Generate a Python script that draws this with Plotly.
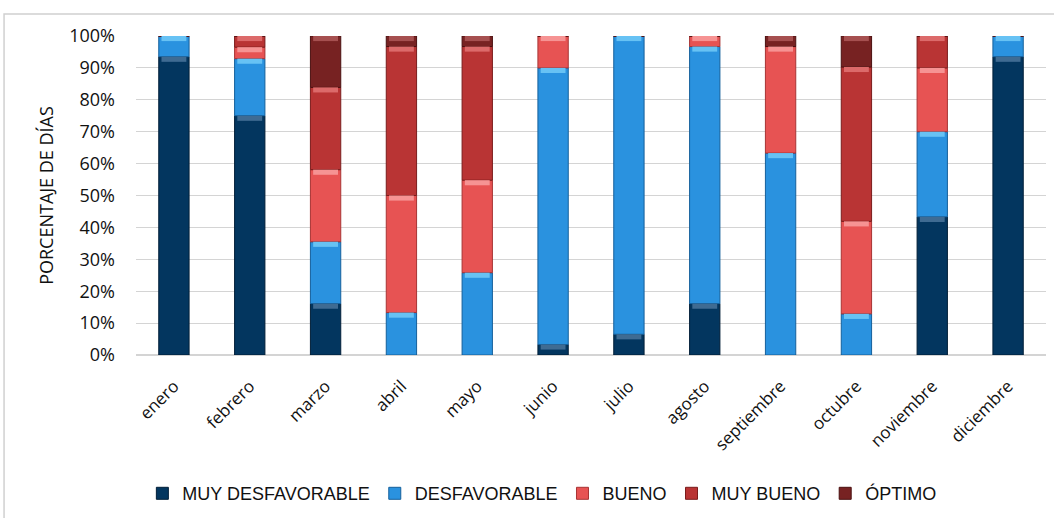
import numpy as np
import plotly.graph_objects as go

months = ["enero", "febrero", "marzo", "abril", "mayo", "junio", "julio",
          "agosto", "septiembre", "octubre", "noviembre", "diciembre"]

# percentage of days in each class, per month
muy_desfavorable = [93.5, 75.0, 16.1, 0.0, 0.0, 3.3, 6.5, 16.1, 0.0, 0.0, 43.3, 93.5]
desfavorable = [6.5, 17.9, 19.4, 13.3, 25.8, 86.7, 93.5, 80.6, 63.3, 12.9, 26.7, 6.5]
bueno = [0.0, 3.6, 22.6, 36.7, 29.0, 10.0, 0.0, 3.3, 33.4, 29.0, 20.0, 0.0]
muy_bueno = [0.0, 3.5, 25.8, 46.7, 41.9, 0.0, 0.0, 0.0, 0.0, 48.4, 10.0, 0.0]
optimo = [0.0, 0.0, 16.1, 3.3, 3.3, 0.0, 0.0, 0.0, 3.3, 9.7, 0.0, 0.0]

series = [
    ("MUY DESFAVORABLE", muy_desfavorable, "#03365f", "#3f6b92", "#021f38"),
    ("DESFAVORABLE", desfavorable, "#2a92df", "#67c2f4", "#15609c"),
    ("BUENO", bueno, "#e75353", "#f69393", "#a83434"),
    ("MUY BUENO", muy_bueno, "#b93434", "#dc6a6a", "#7a1c1c"),
    ("ÓPTIMO", optimo, "#772222", "#a65050", "#4a1010"),
]

font_main = "Open Sans, Segoe UI, sans-serif"
bar_w = 0.4
hl_h = 1.6

fig = go.Figure()
base = np.zeros(len(months))
highlights = []
for name, vals, col, light, edge in series:
    v = np.array(vals, dtype=float)
    fig.add_trace(go.Bar(
        x=months, y=v, base=base.copy(), name=name, width=bar_w,
        marker=dict(color=col, line=dict(color=edge, width=1)),
        hovertemplate="%{x}: %{y:.1f}%<extra>" + name + "</extra>",
    ))
    top = base + v
    mask = v > 0
    highlights.append((np.array(months)[mask], np.full(mask.sum(), hl_h),
                       (top - hl_h)[mask], light))
    base = top

# lighter bevel strip at the top of every segment
for xs, hs, bs, light in highlights:
    fig.add_trace(go.Bar(
        x=list(xs), y=hs, base=bs, width=bar_w * 0.82,
        marker=dict(color=light, line=dict(width=0)),
        showlegend=False, hoverinfo="skip",
    ))

fig.update_layout(
    width=1054, height=518,
    barmode="overlay",
    paper_bgcolor="white", plot_bgcolor="white",
    margin=dict(l=136, r=8, t=36, b=162),
    font=dict(family=font_main, size=18, color="#111111"),
    showlegend=True,
    legend=dict(orientation="h", x=0.446, xanchor="center", y=-0.43, yanchor="middle",
                font=dict(family="Liberation Sans, Arial, sans-serif",
                          size=18, color="#111111"),
                itemwidth=30, tracegroupgap=0, traceorder="normal"),
    xaxis=dict(tickangle=-45, showgrid=False, showline=False, ticks="",
               ticklabelstandoff=17,
               tickfont=dict(family=font_main, size=17)),
    yaxis=dict(range=[0, 100], dtick=10, ticksuffix="%", showgrid=True,
               gridcolor="#d4d4d4", gridwidth=1, zeroline=True, zerolinecolor="#d4d4d4",
               showline=False, ticks="", ticklabelstandoff=20,
               tickfont=dict(family=font_main, size=18),
               title=dict(text="PORCENTAJE DE DÍAS", font=dict(family=font_main, size=18),
                          standoff=10)),
    shapes=[dict(type="rect", xref="paper", yref="paper",
                 x0=-0.145, x1=1.2, y0=-0.7, y1=1.069,
                 line=dict(color="#d0d0d0", width=1.5), fillcolor="rgba(0,0,0,0)",
                 layer="below")],
)

fig.write_html("out.html")
